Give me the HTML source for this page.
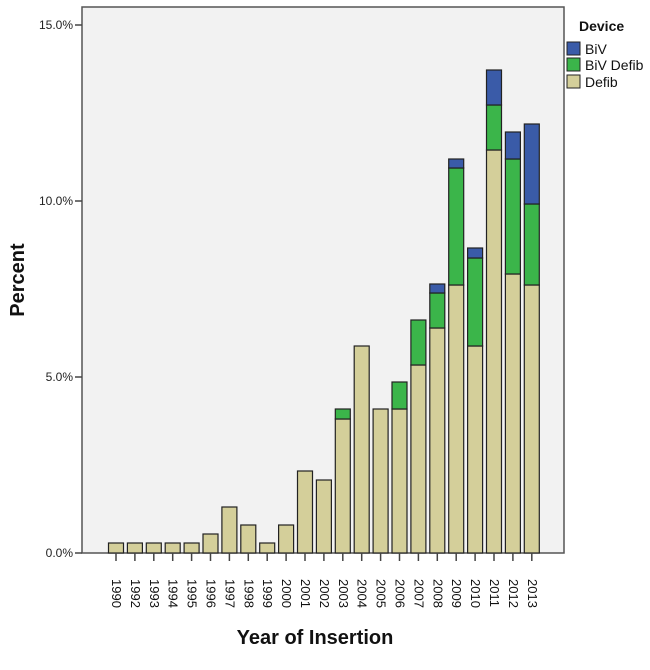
<!DOCTYPE html><html><head><style>body{margin:0;background:#fff}svg{font-family:"Liberation Sans",Arial,sans-serif}</style></head><body>
<svg width="650" height="665" xmlns="http://www.w3.org/2000/svg">
<rect x="82" y="7" width="482" height="546" fill="#f2f2f2" stroke="#555" stroke-width="1.5"/>
<g id="bars" stroke="#222" stroke-width="1.2"></g>
<g font-size="12" fill="#222" text-anchor="end">
<text x="73" y="557">0.0%</text><text x="73" y="381">5.0%</text><text x="73" y="205">10.0%</text><text x="73" y="29">15.0%</text>
</g>
<g stroke="#444" stroke-width="1.5"><line x1="75" y1="553" x2="82" y2="553"/><line x1="75" y1="377" x2="82" y2="377"/><line x1="75" y1="201" x2="82" y2="201"/><line x1="75" y1="25" x2="82" y2="25"/></g>
<g id="xt"></g>
<text x="315" y="644" font-size="20" font-weight="bold" text-anchor="middle" fill="#111">Year of Insertion</text>
<text transform="translate(24,280) rotate(-90)" font-size="20" font-weight="bold" text-anchor="middle" fill="#111">Percent</text>
<text x="579" y="31" font-size="14" font-weight="bold" fill="#111">Device</text>
<rect x="567" y="42" width="13" height="13" fill="#3a5ba8" stroke="#222"/>
<rect x="567" y="58" width="13" height="13" fill="#3bb54a" stroke="#222"/>
<rect x="567" y="75" width="13" height="13" fill="#d4cf9a" stroke="#222"/>
<g font-size="14" fill="#111"><text x="585" y="54">BiV</text><text x="585" y="70">BiV Defib</text><text x="585" y="87">Defib</text></g>
<script>
var years=[1990,1992,1993,1994,1995,1996,1997,1998,1999,2000,2001,2002,2003,2004,2005,2006,2007,2008,2009,2010,2011,2012,2013];
var d=[[543],[543],[543],[543],[543],[534],[507],[525],[543],[525],[471],[480],[419,409],[346],[409],[409,382],[365,320],[328,293,284],[285,168,159],[346,258,248],[150,105,70],[274,159,132],[285,204,124]];
var cols=["#d4cf9a","#3bb54a","#3a5ba8"];var ns="http://www.w3.org/2000/svg";
var g=document.getElementById("bars"),xt=document.getElementById("xt");
years.forEach(function(y,i){var cx=116+i*18.9;if(i==0)cx=116;var b=553;
d[i].forEach(function(t,k){var r=document.createElementNS(ns,"rect");r.setAttribute("x",cx-7.5);r.setAttribute("y",t);r.setAttribute("width",15);r.setAttribute("height",b-t);r.setAttribute("fill",cols[k]);g.appendChild(r);b=t;});
var l=document.createElementNS(ns,"line");l.setAttribute("x1",cx);l.setAttribute("x2",cx);l.setAttribute("y1",553);l.setAttribute("y2",561);l.setAttribute("stroke","#444");l.setAttribute("stroke-width","1.5");xt.appendChild(l);
var tx=document.createElementNS(ns,"text");tx.setAttribute("transform","translate("+(cx-4)+",579) rotate(90)");tx.setAttribute("font-size","13");tx.setAttribute("fill","#111");tx.textContent=y;xt.appendChild(tx);});
</script>
</svg></body></html>
